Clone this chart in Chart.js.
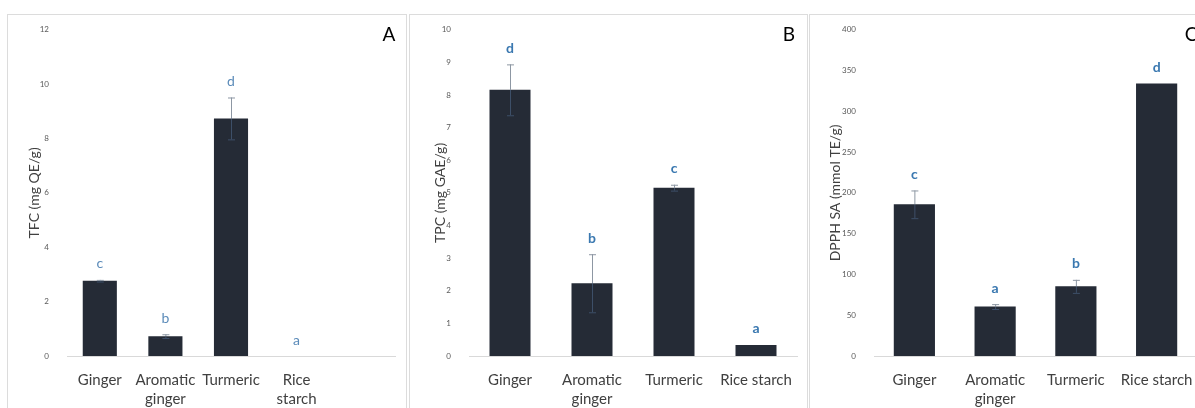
<!DOCTYPE html>
<html>
<head>
<meta charset="utf-8">
<script src="https://cdn.jsdelivr.net/npm/chart.js@4.4.0/dist/chart.umd.min.js"></script>
<style>
  body { margin: 0; width: 1195px; height: 408px; overflow: hidden; background: #fff; position: relative; }
  .panel { position: absolute; top: 14px; height: 420px; border: 1px solid #dcdcdc; box-sizing: border-box; }
  .panel canvas { position: absolute; left: 0; top: 0; }
</style>
</head>
<body>
<div class="panel" style="left:7px;width:400px"><canvas id="chartA" width="400" height="394"></canvas></div>
<div class="panel" style="left:409px;width:399px"><canvas id="chartB" width="399" height="394"></canvas></div>
<div class="panel" style="left:809px;width:400px"><canvas id="chartC" width="400" height="394"></canvas></div>
<script>
const categoriesA = ['Ginger', ['Aromatic', 'ginger'], 'Turmeric', ['Rice', 'starch'], ''];
const categoriesBC = ['Ginger', ['Aromatic', 'ginger'], 'Turmeric', 'Rice starch'];

const tfc = [2.77, 0.73, 8.74, 0, null];
const tfcErr = [0.03, 0.07, 0.77, 0];
const tfcLetters = ['c', 'b', 'd', 'a'];

const tpc = [8.16, 2.23, 5.16, 0.34];
const tpcErr = [0.78, 0.89, 0.09, 0];
const tpcLetters = ['d', 'b', 'c', 'a'];

const dpph = [186, 60.6, 85.4, 334];
const dpphErr = [17, 3, 8, 0];
const dpphLetters = ['c', 'a', 'b', 'd'];

const BAR = '#252b36';
const FONT = 'Lato, "Open Sans", sans-serif';

// error bars, significance letters and the panel letter
const annotations = {
  id: 'annotations',
  afterDatasetsDraw(chart, args, opts) {
    const ctx = chart.ctx;
    const y = chart.scales.y;
    const meta = chart.getDatasetMeta(0);
    ctx.save();
    opts.errors.forEach((e, i) => {
      const v = chart.data.datasets[0].data[i] || 0;
      const x = meta.data[i].x;
      const yBar = y.getPixelForValue(v);
      const yTop = y.getPixelForValue(v + e);
      if (e > 0) {
        const yBot = y.getPixelForValue(v - e);
        ctx.lineWidth = 1;
        ctx.strokeStyle = '#3d4f68';
        ctx.beginPath();
        ctx.moveTo(x + 0.5, yBar);
        ctx.lineTo(x + 0.5, yBot);
        ctx.moveTo(x - 3, yBot + 0.5);
        ctx.lineTo(x + 4, yBot + 0.5);
        ctx.stroke();
        ctx.strokeStyle = '#8d97a3';
        ctx.beginPath();
        ctx.moveTo(x + 0.5, yBar);
        ctx.lineTo(x + 0.5, yTop);
        ctx.moveTo(x - 3, yTop + 0.5);
        ctx.lineTo(x + 4, yTop + 0.5);
        ctx.stroke();
      }
      ctx.fillStyle = opts.letterColor;
      ctx.font = opts.letterFont;
      ctx.textAlign = 'center';
      ctx.textBaseline = 'middle';
      ctx.fillText(opts.letters[i], x, yTop - 16);
    });
    ctx.fillStyle = '#000';
    ctx.font = '19px ' + FONT;
    ctx.textAlign = 'center';
    ctx.textBaseline = 'middle';
    ctx.fillText(opts.panel, opts.panelX, 20);
    ctx.restore();
  },
};

function makeChart(id, labels, values, cfg) {
  return new Chart(document.getElementById(id), {
    type: 'bar',
    data: {
      labels: labels,
      datasets: [
        {
          data: values,
          backgroundColor: BAR,
          borderWidth: 0,
          barPercentage: cfg.barPct,
          categoryPercentage: 1,
        },
      ],
    },
    options: {
      responsive: false,
      animation: false,
      layout: { padding: { top: 13, right: cfg.right, left: 0, bottom: 0 } },
      plugins: {
        legend: { display: false },
        tooltip: { enabled: false },
        annotations: cfg.notes,
      },
      scales: {
        x: {
          grid: { display: false },
          border: { display: true, color: '#d9d9d9' },
          ticks: { color: '#404040', font: { family: FONT, size: 15, lineHeight: 1.3 }, maxRotation: 0, autoSkip: false, padding: 6 },
          afterFit: (s) => { s.height = 53; },
        },
        y: {
          min: 0,
          max: cfg.max,
          grid: { display: false },
          border: { display: false },
          ticks: { stepSize: cfg.step, color: '#595959', font: { family: FONT, size: 8 }, padding: 10 },
          title: {
            display: true,
            text: cfg.title,
            color: '#404040',
            font: { family: FONT, size: 14 },
            padding: { top: cfg.titlePad, bottom: 0 },
          },
          afterFit: (s) => { s.width = cfg.axisW; },
        },
      },
    },
    plugins: [annotations],
  });
}

makeChart('chartA', categoriesA, tfc, {
  barPct: 0.52, right: 13, max: 12, step: 2, title: 'TFC (mg QE/g)', titlePad: 18, axisW: 59,
  notes: { errors: tfcErr, letters: tfcLetters, letterColor: '#5b8bb9', letterFont: '14px ' + FONT, panel: 'A', panelX: 381 },
});

makeChart('chartB', categoriesBC, tpc, {
  barPct: 0.5, right: 12, max: 10, step: 1, title: 'TPC (mg GAE/g)', titlePad: 22, axisW: 59,
  notes: { errors: tpcErr, letters: tpcLetters, letterColor: '#3a78b0', letterFont: 'bold 14px ' + FONT, panel: 'B', panelX: 379 },
});

makeChart('chartC', categoriesBC, dpph, {
  barPct: 0.51, right: 13, max: 400, step: 50, title: 'DPPH SA (mmol TE/g)', titlePad: 17, axisW: 64,
  notes: { errors: dpphErr, letters: dpphLetters, letterColor: '#3a78b0', letterFont: 'bold 14px ' + FONT, panel: 'C', panelX: 381 },
});
</script>
</body>
</html>
